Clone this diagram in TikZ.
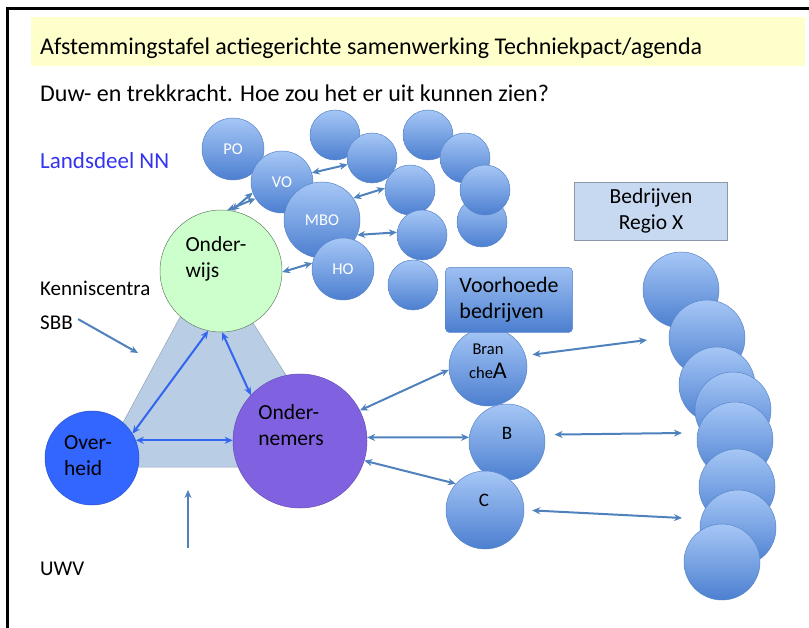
\documentclass[tikz,border=0pt]{standalone}
\usepackage{fontspec}
\setmainfont{Carlito}
\usetikzlibrary{arrows.meta, positioning}

\definecolor{geel}{RGB}{255,255,204}
\definecolor{boltop}{RGB}{166,199,246}
\definecolor{bolbodem}{RGB}{76,127,208}
\definecolor{bolrand}{RGB}{88,133,200}
\definecolor{pijlblauw}{RGB}{79,129,189}
\definecolor{fel}{RGB}{51,102,238}
\definecolor{driehoek}{RGB}{185,205,229}
\definecolor{groen}{RGB}{204,255,204}
\definecolor{paars}{RGB}{128,98,224}
\definecolor{overheidblauw}{RGB}{51,102,255}
\definecolor{regio}{RGB}{198,217,241}
\definecolor{landsdeel}{RGB}{51,51,240}

\begin{document}
\begin{tikzpicture}[x=1pt,y=-1pt,
    bol/.style={circle,draw=bolrand,line width=0.5pt,top color=boltop,bottom color=bolbodem,
                inner sep=0pt,text=white,font=\fontsize{16.5}{16.5}\selectfont},
    groot/.style={circle,inner sep=0pt},
    binnen/.style={align=left,font=\fontsize{21.5}{26}\selectfont},
    tekst/.style={font=\fontsize{21}{24}\selectfont,anchor=base west,inner sep=0pt},
    pijl/.style={{Stealth[length=8pt,width=7pt]}-{Stealth[length=8pt,width=7pt]},draw=pijlblauw,line width=2pt},
    felpijl/.style={pijl,draw=fel},
    enkel/.style={-{Stealth[length=8pt,width=7pt]},draw=pijlblauw,line width=2pt}]
  \useasboundingbox (0,0) rectangle (809,628);
  % kader en kop
  \draw[line width=3pt] (809,9) -- (7,9) -- (7,628);
  \fill[geel] (31,17) rectangle (805,66);
  \node[tekst,font=\fontsize{24}{28}\selectfont] (titel) at (40,55) {Afstemmingstafel actiegerichte samenwerking Techniekpact/agenda};
  \node[tekst,font=\fontsize{24}{28}\selectfont] (vraag) at (40,102) {Duw- en trekkracht. Hoe zou het er uit kunnen zien?};
  \node[tekst,text=landsdeel,font=\fontsize{23}{26}\selectfont] (nn) at (40,169) {Landsdeel NN};
  \node[tekst] (kc) at (40,296) {Kenniscentra};
  \node[tekst] (sbb) at (40,330) {SBB};
  \node[tekst] (uwv) at (40,575) {UWV};

  % driehoek
  \filldraw[fill=driehoek,draw=driehoek!80!black,line width=0.5pt] (212,258) -- (99,467) -- (344,467) -- cycle;

  % onderwijs
  \node[bol,minimum size=62pt] (po) at (233,149) {PO};
  \node[bol,minimum size=62pt] (vo) at (282,182) {VO};
  \node[bol,minimum size=76pt] (mbo) at (322,220) {MBO};
  \node[bol,minimum size=62pt] (ho) at (343,269) {HO};
  \node[bol,minimum size=50pt] (s_1) at (335,135) {};
  \node[bol,minimum size=50pt] (s_2) at (372,158) {};
  \node[bol,minimum size=50pt] (s_5) at (413,285) {};
  \node[bol,minimum size=50pt] (s_3) at (410,190) {};
  \node[bol,minimum size=50pt] (s_4) at (422,235) {};
  \node[bol,minimum size=50pt] (s_6) at (428,135) {};
  \node[bol,minimum size=50pt] (s_7) at (465,158) {};
  \node[bol,minimum size=50pt] (s_9) at (482,222) {};
  \node[bol,minimum size=50pt] (s_8) at (485,190) {};

  \node[groot,minimum size=122pt,fill=groen,draw=groen!50!black,line width=0.5pt,
        label={[shift={(-5,-12)},binnen]center:Onder-\\wijs}] (onderwijs) at (221,271) {};
  \node[groot,minimum size=94pt,fill=overheidblauw,draw=overheidblauw!80!black,line width=0.5pt,
        label={[shift={(-4,-2)},binnen]center:Over-\\heid}] (overheid) at (92,458) {};
  \node[groot,minimum size=134pt,fill=paars,draw=paars!80!black,line width=0.5pt,
        label={[shift={(-9,-16)},binnen]center:Onder-\\nemers}] (ondernemers) at (300,441) {};

  % bedrijven
  \node[bol,minimum size=78pt,
        label={[shift={(0,-6)},align=center,font=\fontsize{16.5}{24}\selectfont]center:Bran\\che{\fontsize{24}{24}\selectfont A}}] (br_a) at (488,367) {};
  \node[bol,minimum size=76pt,
        label={[shift={(0,-9)},font=\fontsize{19}{19}\selectfont]center:B}] (br_b) at (507,442) {};
  \node[bol,minimum size=78pt,
        label={[shift={(-1,-10)},font=\fontsize{19}{19}\selectfont]center:C}] (br_c) at (485,510) {};
  \node[rectangle,rounded corners=4pt,top color=boltop!90!bolbodem,bottom color=bolbodem,draw=bolrand,line width=0.5pt,
        minimum width=127pt,minimum height=65pt,align=left,font=\fontsize{22}{26}\selectfont] (voorhoede) at (509,300) {Voorhoede\\bedrijven};
  \node[rectangle,fill=regio,draw=regio!70!black,line width=0.5pt,minimum width=153pt,minimum height=58pt,
        align=center,font=\fontsize{21.5}{26}\selectfont] (regio) at (651,211) {Bedrijven\\Regio X};
  \foreach \n/\x/\y in {1/681/290,2/707/338,3/717/385,4/733/410,5/735/440,6/737/487,7/738/528,8/722/562}
    \node[bol,minimum size=76pt] (r_\n) at (\x,\y) {};

  % pijlen
  \draw[pijl] (vo.200) -- (onderwijs.80);
  \draw[pijl] (vo.212) -- (onderwijs.84);
  \draw[pijl] (vo.17) -- (s_2.195);
  \draw[pijl] (mbo.35) -- (s_3.176);
  \draw[pijl] (mbo.-23) -- (s_4.174);
  \draw[pijl] (ho.169) -- (onderwijs.-1);
  \draw[felpijl] (overheid.31) -- (onderwijs.258);
  \draw[felpijl] (onderwijs.271) -- (ondernemers.137);
  \draw[felpijl] (overheid.22) -- (overheid.22 -| ondernemers.west);
  \draw[pijl] (ondernemers.27) -- (br_a.184);
  \draw[pijl] (ondernemers.3) -- (br_b.173);
  \draw[pijl] (ondernemers.-17) -- (br_c.138);
  \coordinate (eind_a) at (647,340);
  \coordinate (eind_b) at (682,433);
  \coordinate (eind_c) at (682,518);
  \draw[pijl,shorten <=7pt] (br_a.17) -- (eind_a);
  \draw[pijl,shorten <=10pt] (br_b.11) -- (eind_b);
  \draw[pijl,shorten <=8pt] (br_c.0) -- (eind_c);
  \coordinate (sbb_eind) at (138,353);
  \draw[enkel,shorten <=6pt] (sbb.north east) -- (sbb_eind);
  \coordinate (uwv_begin) at (188,548);
  \coordinate (uwv_eind) at (188,490);
  \draw[enkel] (uwv_begin) -- (uwv_eind);
\end{tikzpicture}
\end{document}
